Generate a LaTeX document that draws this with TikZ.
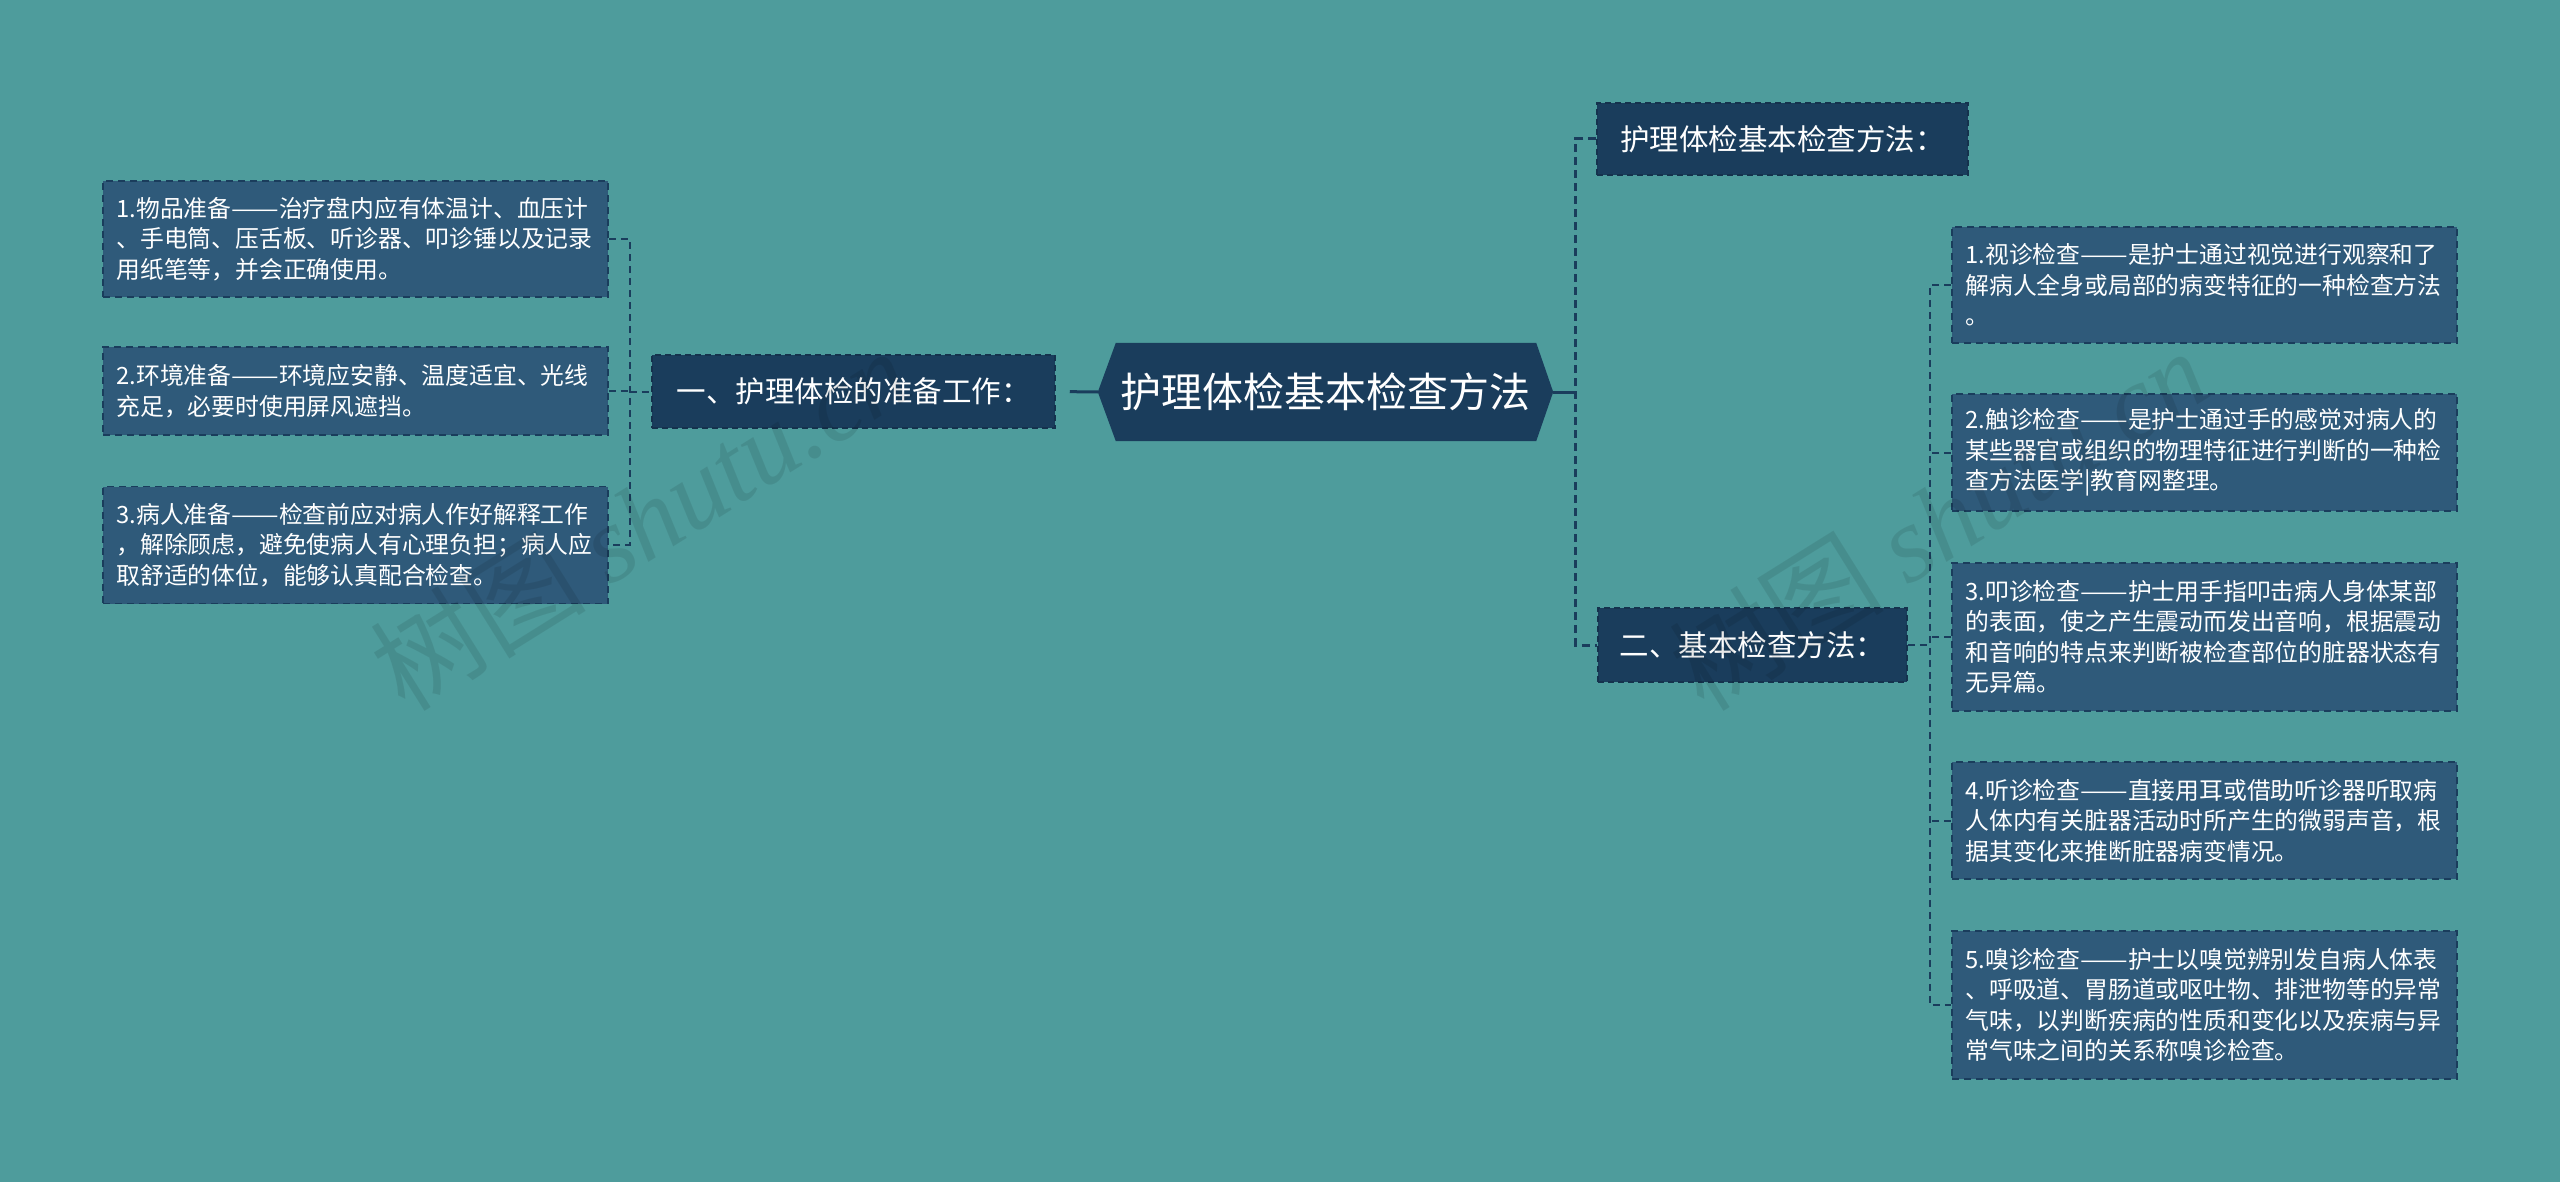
\documentclass[tikz,border=0pt]{standalone}
\usepackage{fontspec}
\usepackage{graphicx}
\setmainfont{Noto Sans CJK SC}
\newfontfamily\wmlatin{Liberation Serif}
\usetikzlibrary{calc}
\pgfdeclarelayer{bg}
\pgfsetlayers{bg,main}
\definecolor{bgteal}{HTML}{4E9C9C}
\definecolor{navy}{HTML}{1A3D5C}
\definecolor{navydark}{HTML}{15324D}
\definecolor{boxblue}{HTML}{2F5A7A}
\newcommand{\longdash}{\resizebox{2em}{\height}{——}}
\tikzset{
  mainnode/.style={fill=navy, draw=navydark, line width=1.5pt, dash pattern=on 6pt off 4pt,
    text=white, font=\fontsize{29.5}{34}\selectfont, inner sep=0pt},
  leafbox/.style={fill=boxblue, draw=navy, line width=1.8pt, dash pattern=on 7pt off 5pt,
    text=white, font=\fontsize{23.8}{30.5}\selectfont, text width=478pt, align=left,
    inner xsep=13.5pt, inner ysep=0pt},
  centerbox/.style={text=white, font=\fontsize{41}{46}\selectfont, inner sep=0pt,
    minimum width=455pt, minimum height=98pt},
  conn/.style={draw=navy, line width=2pt, dash pattern=on 7pt off 5pt},
  mainconn/.style={draw=navy, line width=3pt, dash pattern=on 8pt off 5pt},
  solidconn/.style={draw=navy, line width=3pt},
  wm/.style={text=black, opacity=0.09, font=\fontsize{108}{110}\selectfont, inner sep=0pt}
}
\begin{document}
\begin{tikzpicture}[x=1pt, y=-1pt]
\useasboundingbox (0,0) rectangle (2560,1182);
\begin{pgfonlayer}{bg}
  \fill[bgteal] (0,0) rectangle (2560,1182);
\end{pgfonlayer}

% left leaves
\node[leafbox, minimum height=116pt] (l1) at (355.5,239)
  {1.物品准备\longdash 治疗盘内应有体温计、血压计\\、手电筒、压舌板、听诊器、叩诊锤以及记录\\用纸笔等，并会正确使用。};
\node[leafbox, minimum height=88pt] (l2) at (355.5,391)
  {2.环境准备\longdash 环境应安静、温度适宜、光线\\充足，必要时使用屏风遮挡。};
\node[leafbox, minimum height=117pt] (l3) at (355.5,545)
  {3.病人准备\longdash 检查前应对病人作好解释工作\\，解除顾虑，避免使病人有心理负担；病人应\\取舒适的体位，能够认真配合检查。};

% first-level nodes
\node[mainnode, minimum width=403pt, minimum height=73pt] (p1) at (853.5,391.5) {一、护理体检的准备工作：};
\node[centerbox] (c) at (1325.5,392) {护理体检基本检查方法};
\begin{pgfonlayer}{bg}
  \fill[navy] (c.west) -- ([xshift=18pt]c.north west) -- ([xshift=-17pt]c.north east)
    -- (c.east) -- ([xshift=-17pt]c.south east) -- ([xshift=18pt]c.south west) -- cycle;
\end{pgfonlayer}
\node[mainnode, minimum width=371pt, minimum height=72pt] (m1) at (1782.5,139) {护理体检基本检查方法：};
\node[mainnode, minimum width=309pt, minimum height=74pt] (m2) at (1752.5,645) {二、基本检查方法：};

% right leaves
\node[leafbox, minimum height=116pt] (r1) at (2204.5,285)
  {1.视诊检查\longdash 是护士通过视觉进行观察和了\\解病人全身或局部的病变特征的一种检查方法\\。};
\node[leafbox, minimum height=117pt] (r2) at (2204.5,452.5)
  {2.触诊检查\longdash 是护士通过手的感觉对病人的\\某些器官或组织的物理特征进行判断的一种检\\查方法医学|教育网整理。};
\node[leafbox, minimum height=148pt] (r3) at (2204.5,637)
  {3.叩诊检查\longdash 护士用手指叩击病人身体某部\\的表面，使之产生震动而发出音响，根据震动\\和音响的特点来判断被检查部位的脏器状态有\\无异篇。};
\node[leafbox, minimum height=117pt] (r4) at (2204.5,820.5)
  {4.听诊检查\longdash 直接用耳或借助听诊器听取病\\人体内有关脏器活动时所产生的微弱声音，根\\据其变化来推断脏器病变情况。};
\node[leafbox, minimum height=148pt] (r5) at (2204.5,1005)
  {5.嗅诊检查\longdash 护士以嗅觉辨别发自病人体表\\、呼吸道、胃肠道或呕吐物、排泄物等的异常\\气味，以判断疾病的性质和变化以及疾病与异\\常气味之间的关系称嗅诊检查。};

% connectors
\coordinate (lj) at (629.5,391.5);
\coordinate (rj) at (1575.5,392);
\coordinate (cj) at (1930,645);

\draw[conn] (l1.east) -- (l1.east -| lj) -- (l3.east -| lj) -- (l3.east);
\draw[conn] (l2.east) -- (l2.east -| lj);
\draw[conn] (lj) -- (p1.west);

\draw[solidconn, shorten <=14pt] (p1.east) -- (c.west);
\draw[solidconn] (c.east) -- (rj);
\draw[mainconn] (m1.west) -- (m1.west -| rj) -- (m2.west -| rj) -- (m2.west);

\draw[conn] (m2.east) -- (cj);
\draw[conn] (r1.west) -- (r1.west -| cj) -- (r5.west -| cj) -- (r5.west);
\draw[conn] (r2.west) -- (r2.west -| cj);
\draw[conn] (r3.west) -- (r3.west -| cj);
\draw[conn] (r4.west) -- (r4.west -| cj);

% watermarks
\node[wm, rotate=32] (w1) at (640,519) {树图 {\wmlatin\itshape shutu.cn}};
\node[wm, rotate=32] (w2) at (1938,519) {树图 {\wmlatin\itshape shutu.cn}};
\end{tikzpicture}
\end{document}
